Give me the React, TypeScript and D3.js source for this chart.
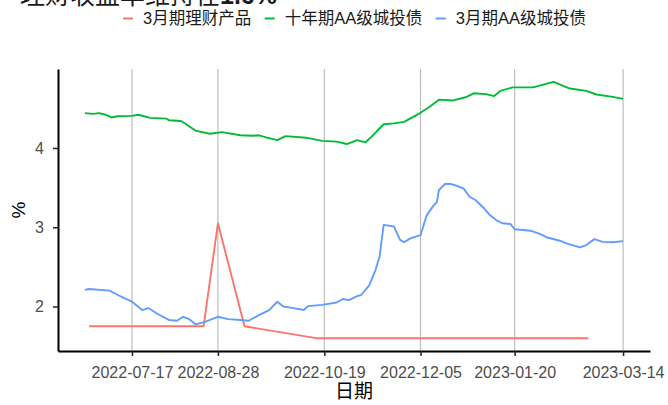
import React, {useEffect, useRef} from 'react';
import * as d3 from 'd3';

const seriesNames = ['3月期理财产品', '十年期AA级城投债', '3月期AA级城投债'];
const seriesColors = ['#F8766D', '#00BA38', '#619CFF'];

const redDates = ['2022-06-26', '2022-08-21', '2022-08-28', '2022-09-10', '2022-10-15', '2023-02-25'];
const redValues = [1.75, 1.75, 3.05, 1.75, 1.60, 1.60];

const greenDates = [
  '2022-06-24', '2022-06-28', '2022-07-01', '2022-07-04', '2022-07-07', '2022-07-10', '2022-07-17',
  '2022-07-20', '2022-07-26', '2022-08-03', '2022-08-04', '2022-08-10', '2022-08-13', '2022-08-17',
  '2022-08-24', '2022-08-30', '2022-09-08', '2022-09-14', '2022-09-17', '2022-09-21', '2022-09-26',
  '2022-09-30', '2022-10-10', '2022-10-18', '2022-10-25', '2022-10-30', '2022-11-04', '2022-11-08',
  '2022-11-11', '2022-11-17', '2022-11-22', '2022-11-27', '2022-12-03', '2022-12-05', '2022-12-10',
  '2022-12-14', '2022-12-21', '2022-12-27', '2022-12-31', '2023-01-06', '2023-01-10', '2023-01-13',
  '2023-01-19', '2023-01-29', '2023-02-08', '2023-02-16', '2023-02-24', '2023-03-01', '2023-03-09',
  '2023-03-14'
];
const greenValues = [
  4.44, 4.43, 4.44, 4.42, 4.385, 4.40, 4.405,
  4.42, 4.38, 4.37, 4.35, 4.34, 4.29, 4.22,
  4.18, 4.20, 4.16, 4.155, 4.16, 4.13, 4.10,
  4.15, 4.13, 4.09, 4.08, 4.05, 4.10, 4.07,
  4.14, 4.30, 4.31, 4.33, 4.415, 4.445, 4.53,
  4.61, 4.60, 4.64, 4.69, 4.68, 4.655, 4.72,
  4.765, 4.765, 4.835, 4.75, 4.72, 4.675, 4.645,
  4.62
];

const blueDates = [
  '2022-06-24', '2022-06-26', '2022-07-06', '2022-07-12', '2022-07-17', '2022-07-22', '2022-07-25',
  '2022-07-29', '2022-08-04', '2022-08-08', '2022-08-11', '2022-08-14', '2022-08-17', '2022-08-21',
  '2022-08-28', '2022-09-02', '2022-09-08', '2022-09-12', '2022-09-17', '2022-09-22', '2022-09-26',
  '2022-09-29', '2022-10-04', '2022-10-09', '2022-10-11', '2022-10-18', '2022-10-25', '2022-10-28',
  '2022-10-31', '2022-11-04', '2022-11-06', '2022-11-10', '2022-11-13', '2022-11-15', '2022-11-17',
  '2022-11-22', '2022-11-25', '2022-11-27', '2022-11-30', '2022-12-05', '2022-12-08', '2022-12-11',
  '2022-12-13', '2022-12-14', '2022-12-17', '2022-12-20', '2022-12-23', '2022-12-26', '2022-12-29',
  '2023-01-01', '2023-01-05', '2023-01-08', '2023-01-11', '2023-01-14', '2023-01-18', '2023-01-20',
  '2023-01-28', '2023-02-01', '2023-02-05', '2023-02-11', '2023-02-15', '2023-02-21', '2023-02-24',
  '2023-02-28', '2023-03-04', '2023-03-09', '2023-03-14'
];
const blueValues = [
  2.21, 2.22, 2.20, 2.12, 2.06, 1.955, 1.98,
  1.915, 1.83, 1.82, 1.87, 1.84, 1.775, 1.80,
  1.87, 1.84, 1.83, 1.82, 1.89, 1.955, 2.06,
  2.00, 1.98, 1.955, 2.005, 2.02, 2.05, 2.095,
  2.08, 2.13, 2.145, 2.27, 2.46, 2.63, 3.03,
  3.01, 2.84, 2.81, 2.86, 2.90, 3.15, 3.26,
  3.32, 3.47, 3.545, 3.545, 3.52, 3.49, 3.385,
  3.34, 3.24, 3.15, 3.09, 3.05, 3.04, 2.975,
  2.955, 2.92, 2.87, 2.83, 2.79, 2.745, 2.775,
  2.85, 2.815, 2.81, 2.825
];

const xTickDates = ['2022-07-17', '2022-08-28', '2022-10-19', '2022-12-05', '2023-01-20', '2023-03-14'];
const yTicks = [2, 3, 4];

const titleText = '理财收益率维持在';
const titleNumber = '1.6%';
const xTitle = '日期';
const yTitle = '%';

const W = 668;
const H = 405;
const latinCjk = '"Liberation Sans", Arial, "Noto Sans CJK SC", sans-serif';

export default function App() {
  const ref = useRef<SVGSVGElement>(null);

  useEffect(() => {
    const parse = d3.timeParse('%Y-%m-%d');
    const series = [
      {dates: redDates, values: redValues},
      {dates: greenDates, values: greenValues},
      {dates: blueDates, values: blueValues},
    ].map((s, i) => ({
      name: seriesNames[i],
      color: seriesColors[i],
      points: s.dates.map((d, j) => ({date: parse(d) as Date, value: s.values[j]})),
    }));

    const allPoints = series.flatMap(s => s.points);
    const [d0, d1] = d3.extent(allPoints, p => p.date.getTime()) as [number, number];
    const [v0, v1] = d3.extent(allPoints, p => p.value) as [number, number];
    const dPad = (d1 - d0) * 0.05;
    const vPad = (v1 - v0) * 0.05;

    const margin = {top: 69, right: 18, bottom: 54, left: 58};

    const x = d3.scaleTime()
      .domain([new Date(d0 - dPad), new Date(d1 + dPad)])
      .range([margin.left, W - margin.right]);
    const y = d3.scaleLinear()
      .domain([v0 - vPad, v1 + vPad])
      .range([H - margin.bottom, margin.top]);

    const svg = d3.select(ref.current);
    svg.selectAll('*').remove();

    // vertical grid at the date breaks
    svg.append('g')
      .selectAll('line')
      .data(xTickDates.map(d => parse(d) as Date))
      .enter().append('line')
      .attr('x1', d => x(d))
      .attr('x2', d => x(d))
      .attr('y1', margin.top)
      .attr('y2', H - margin.bottom)
      .attr('stroke', '#BEBEBE')
      .attr('stroke-width', 1.2);

    const line = d3.line<{date: Date, value: number}>()
      .x(d => x(d.date))
      .y(d => y(d.value));

    svg.append('g')
      .selectAll('path')
      .data(series)
      .enter().append('path')
      .attr('d', d => line(d.points))
      .attr('fill', 'none')
      .attr('stroke', d => d.color)
      .attr('stroke-width', 1.9)
      .attr('stroke-linejoin', 'round');

    const xAxis = svg.append('g')
      .attr('transform', `translate(0,${H - margin.bottom})`)
      .call(d3.axisBottom(x)
        .tickValues(xTickDates.map(d => parse(d) as Date))
        .tickFormat(d => d3.timeFormat('%Y-%m-%d')(d as Date))
        .tickSize(5)
        .tickSizeOuter(0)
        .tickPadding(11));

    const yAxis = svg.append('g')
      .attr('transform', `translate(${margin.left},0)`)
      .call(d3.axisLeft(y)
        .tickValues(yTicks)
        .tickFormat(d3.format('d'))
        .tickSize(5)
        .tickSizeOuter(0)
        .tickPadding(9));

    [xAxis, yAxis].forEach(ax => {
      ax.select('.domain').attr('stroke', '#000').attr('stroke-width', 2);
      ax.selectAll('.tick line').attr('stroke', '#222').attr('stroke-width', 1.5);
      ax.selectAll('.tick text')
        .attr('fill', '#4D4D4D')
        .style('font-family', '"Liberation Sans", Arial, sans-serif')
        .style('font-size', '16px');
    });

    // axis titles
    svg.append('text')
      .attr('x', (margin.left + W - margin.right) / 2)
      .attr('y', 398)
      .attr('text-anchor', 'middle')
      .style('font-family', '"Noto Sans CJK SC", sans-serif')
      .style('font-size', '19px')
      .attr('fill', '#000')
      .text(xTitle);

    svg.append('text')
      .attr('transform', `translate(25,${(margin.top + H - margin.bottom) / 2}) rotate(-90)`)
      .attr('text-anchor', 'middle')
      .style('font-family', '"Liberation Sans", Arial, sans-serif')
      .style('font-size', '19px')
      .attr('fill', '#000')
      .text(yTitle);

    // title, clipped at the top edge
    const title = svg.append('text')
      .attr('x', 20)
      .attr('y', 4)
      .attr('fill', '#1a1a1a')
      .style('font-size', '25px');
    title.append('tspan')
      .style('font-family', '"Noto Sans CJK SC", sans-serif')
      .text(titleText);
    title.append('tspan')
      .style('font-family', '"Liberation Sans", Arial, sans-serif')
      .style('font-weight', 'bold')
      .text(titleNumber);

    // legend
    const legend = svg.append('g');
    let lx = 123;
    const ly = 18.5;
    series.forEach(s => {
      legend.append('line')
        .attr('x1', lx).attr('x2', lx + 10)
        .attr('y1', ly).attr('y2', ly)
        .attr('stroke', s.color)
        .attr('stroke-width', 2);
      const t = legend.append('text')
        .attr('x', lx + 20)
        .attr('y', ly)
        .attr('dy', '0.36em')
        .attr('fill', '#1a1a1a')
        .style('font-family', latinCjk)
        .style('font-size', '16.5px')
        .text(s.name);
      const w = (t.node() as SVGTextElement).getComputedTextLength();
      lx = lx + 20 + w + 13.5;
    });
  }, []);

  return (
    <svg ref={ref} width={W} height={H}
         style={{position: 'absolute', left: 0, top: 0, background: '#fff'}}></svg>
  );
}
